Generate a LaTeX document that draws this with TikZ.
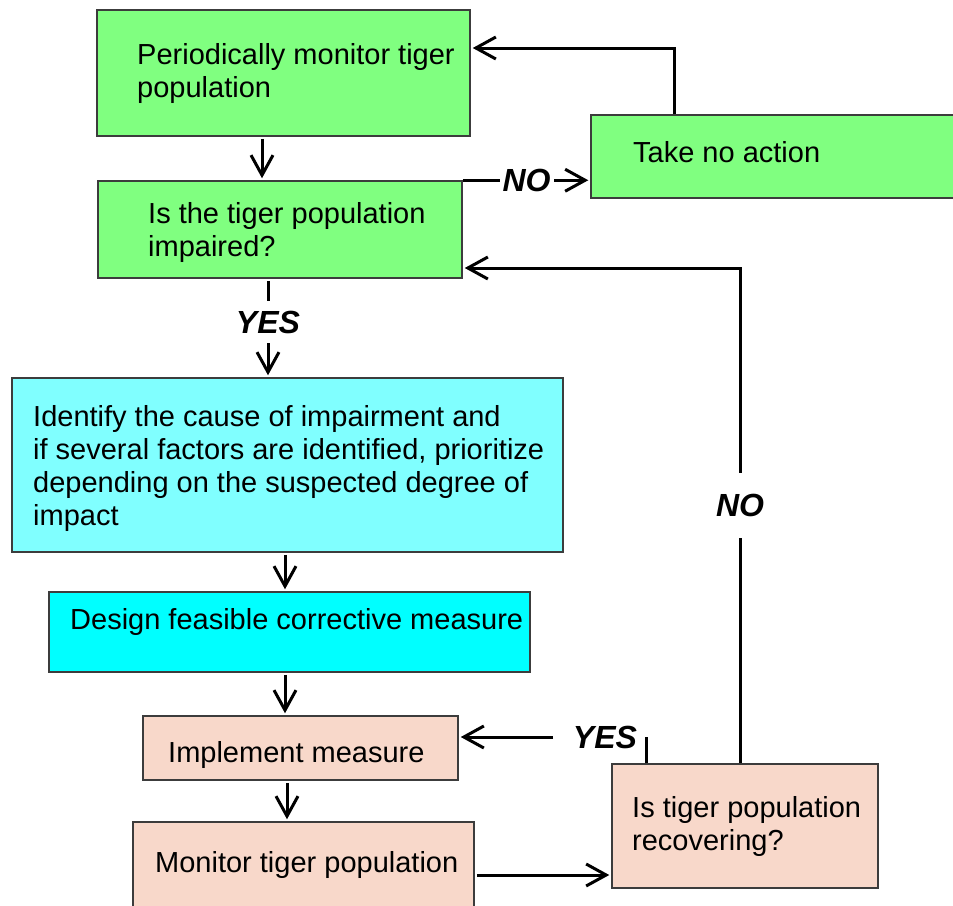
\documentclass[tikz,border=0pt]{standalone}
\usepackage{fontspec}
\setmainfont{Liberation Sans}
\usepackage{tikz}
\usetikzlibrary{arrows.meta}
\usetikzlibrary{quotes}

\definecolor{boxgreen}{RGB}{128,255,128}
\definecolor{boxaqua}{RGB}{128,255,255}
\definecolor{boxcyan}{RGB}{0,255,255}
\definecolor{boxpeach}{RGB}{248,216,202}
\definecolor{boxline}{RGB}{60,60,60}

\begin{document}
\begin{tikzpicture}[x=1pt,y=-1pt,
    box/.style={draw=boxline,line width=1.5pt,rectangle,inner sep=0pt},
    txt/.style={anchor=west,align=left,inner sep=0pt,font=\fontsize{29}{33}\selectfont},
    arr/.style={line width=3pt,-{Straight Barb[length=20pt,width=22pt]},shorten <=2pt,shorten >=2pt},
    lbl/.style={fill=white,inner xsep=3pt,inner ysep=10pt,font=\fontsize{32}{36}\selectfont\bfseries\itshape},
    every edge quotes/.style={lbl}]

    \useasboundingbox (0,0) rectangle (953,905);

    \node[box,fill=boxgreen,minimum width=373pt,minimum height=126pt] (periodic)   at (283.5,73)  {};
    \node[box,fill=boxgreen,minimum width=367pt,minimum height=83pt]  (noaction)   at (774.5,156.5) {};
    \node[box,fill=boxgreen,minimum width=364pt,minimum height=97pt]  (impaired)   at (280,229.5) {};
    \node[box,fill=boxaqua,minimum width=551pt,minimum height=174pt]  (identify)   at (287.5,465) {};
    \node[box,fill=boxcyan,minimum width=481pt,minimum height=80pt]   (design)     at (289.5,632) {};
    \node[box,fill=boxpeach,minimum width=315pt,minimum height=64pt]  (implement)  at (300.5,748) {};
    \node[box,fill=boxpeach,minimum width=341pt,minimum height=90pt]  (monitor)    at (303.5,867) {};
    \node[box,fill=boxpeach,minimum width=266pt,minimum height=124pt] (recovering) at (745,826)   {};

    \node[txt] (periodic text)   at (137,73)  {Periodically monitor tiger\\population};
    \node[txt] (noaction text)   at (633,152) {Take no action};
    \node[txt] (impaired text)   at (148,232) {Is the tiger population\\impaired?};
    \node[txt] (identify text)   at (33,468)  {Identify the cause of impairment and\\if several factors are identified, prioritize\\depending on the suspected degree of\\impact};
    \node[txt] (design text)     at (70,622)  {Design feasible corrective measure};
    \node[txt] (implement text)  at (168,755) {Implement measure};
    \node[txt] (monitor text)    at (155,865) {Monitor tiger population};
    \node[txt] (recovering text) at (632,826) {Is tiger population\\recovering?};

    \draw ([xshift=-21.5pt]periodic.south) edge[arr] ([xshift=-21.5pt]periodic.south |- impaired.north);
    \draw (impaired.north east) edge[arr,shorten <=0pt,"NO"] (impaired.north east -| noaction.west);
    \draw[arr,shorten <=0pt] ([xshift=-100.5pt]noaction.north) |- ([yshift=25pt]periodic.east);
    \draw ([xshift=-12pt]impaired.south) edge[arr,"YES" pos=0.44] ([xshift=-12pt]impaired.south |- identify.north);
    \draw ([xshift=-2.5pt]identify.south) edge[arr] ([xshift=-2.5pt]identify.south |- design.north);
    \draw ([xshift=-4.5pt]design.south) edge[arr] ([xshift=-4.5pt]design.south |- implement.north);
    \draw ([xshift=-13.5pt]implement.south) edge[arr] ([xshift=-13.5pt]implement.south |- monitor.north);
    \draw ([yshift=-8pt]monitor.east) edge[arr] ([yshift=-8pt]monitor.east -| recovering.west);
    \draw[arr,shorten <=0pt] ([xshift=-5pt]recovering.north) |- node[lbl,pos=0.26,inner ysep=21pt] {NO} ([yshift=-38.5pt]impaired.east);

    \node[lbl,fill=none,inner ysep=0pt] (yes recov) at (605,737) {YES};
    \draw[line width=3pt] ([xshift=-99pt]recovering.north) -- ([xshift=-99pt]recovering.north |- yes recov.center);
    \draw ([xshift=-50pt]yes recov.center) edge[arr] (implement.east |- yes recov.center);
  \end{tikzpicture}
\end{document}
